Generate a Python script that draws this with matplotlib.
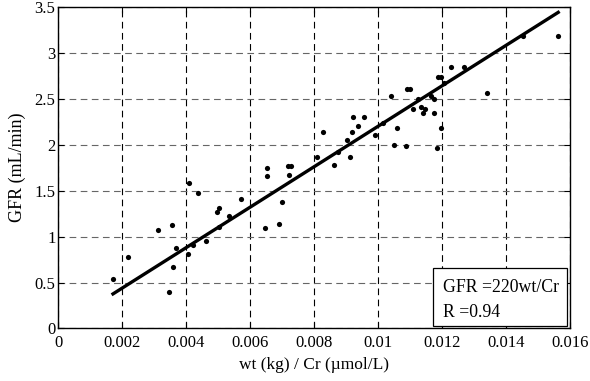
import matplotlib
matplotlib.use("Agg")
import matplotlib.pyplot as plt
from matplotlib.patches import Rectangle
import numpy as np

plt.rcParams['font.family'] = ['Liberation Serif', 'DejaVu Serif']

# measured wt/Cr ratio vs GFR
ratio = [0.00171, 0.00218, 0.00313, 0.00354, 0.00345, 0.00358, 0.00367, 0.00404,
         0.00420, 0.00408, 0.00436, 0.00462, 0.00504, 0.00495, 0.00502, 0.00535,
         0.00571, 0.00652, 0.00651, 0.00647, 0.00689, 0.00698, 0.00719, 0.00727,
         0.00721, 0.00809, 0.00828, 0.00863, 0.00873, 0.00903, 0.00913, 0.00917,
         0.00920, 0.00936, 0.00956, 0.00989, 0.01016, 0.01039, 0.01058, 0.01049,
         0.01087, 0.01090, 0.01101, 0.01108, 0.01125, 0.01135, 0.01146, 0.01139,
         0.01166, 0.01174, 0.01174, 0.01198, 0.01185, 0.01187, 0.01198, 0.01205,
         0.01229, 0.01267, 0.01340, 0.01454, 0.01563]
gfr = [0.535, 0.774, 1.071, 1.125, 0.400, 0.665, 0.871, 0.806,
       0.908, 1.578, 1.476, 0.954, 1.100, 1.270, 1.313, 1.223,
       1.411, 1.741, 1.658, 1.092, 1.136, 1.378, 1.766, 1.766,
       1.665, 1.864, 2.136, 1.777, 1.915, 2.049, 1.861, 2.136,
       2.302, 2.204, 2.302, 2.107, 2.237, 2.530, 2.179, 1.995,
       1.984, 2.600, 2.600, 2.389, 2.491, 2.404, 2.389, 2.346,
       2.527, 2.498, 2.346, 2.183, 1.962, 2.730, 2.730, 2.672,
       2.846, 2.846, 2.557, 3.179, 3.179]

slope = 220
r_value = 0.94
fit_x = [min(ratio), max(ratio)]

fig = plt.figure(figsize=(5.9, 3.81), dpi=100)
ax = fig.add_axes([0.0988, 0.1378, 0.8674, 0.8446])

ax.scatter(ratio, gfr, s=14, color='black', zorder=3, linewidths=0)
ax.plot(fit_x, [slope * v for v in fit_x], color='black', lw=2.4, zorder=4)

ax.set_xlim(0, 0.016)
ax.set_ylim(0, 3.5)
ax.set_xticks(np.arange(0, 0.0161, 0.002))
ax.set_yticks(np.arange(0, 3.51, 0.5))
ax.set_xticklabels(['0', '0.002', '0.004', '0.006', '0.008', '0.01', '0.012', '0.014', '0.016'])
ax.set_yticklabels(['0', '0.5', '1', '1.5', '2', '2.5', '3', '3.5'])
ax.tick_params(direction='in', top=True, right=True, labelsize=12, length=4, color='black')
ax.tick_params(axis='x', pad=5)
ax.tick_params(axis='y', pad=2)

ax.xaxis.grid(True, color='black', linestyle=(0, (6, 4)), lw=0.8)
ax.yaxis.grid(True, color='#666666', linestyle=(0, (6, 4)), lw=0.8)
ax.set_axisbelow(True)
for sp in ax.spines.values():
    sp.set_linewidth(1.0)

ax.set_xlabel('wt (kg) / Cr (\u00b5mol/L)', fontsize=12.5, labelpad=4)
ax.set_ylabel('GFR (mL/min)', fontsize=13, labelpad=6)

# annotation box
ax.add_patch(Rectangle((0.733, 0.008), 0.262, 0.179, transform=ax.transAxes,
                       facecolor='white', edgecolor='black', lw=0.9, zorder=5))
ax.text(0.7513, 0.1144, f'GFR ={slope}wt/Cr', transform=ax.transAxes,
        fontsize=12.8, va='baseline', ha='left', zorder=6)
ax.text(0.7513, 0.0367, f'R ={r_value}', transform=ax.transAxes,
        fontsize=12.8, va='baseline', ha='left', zorder=6)

fig.savefig('out.png', dpi=100)
